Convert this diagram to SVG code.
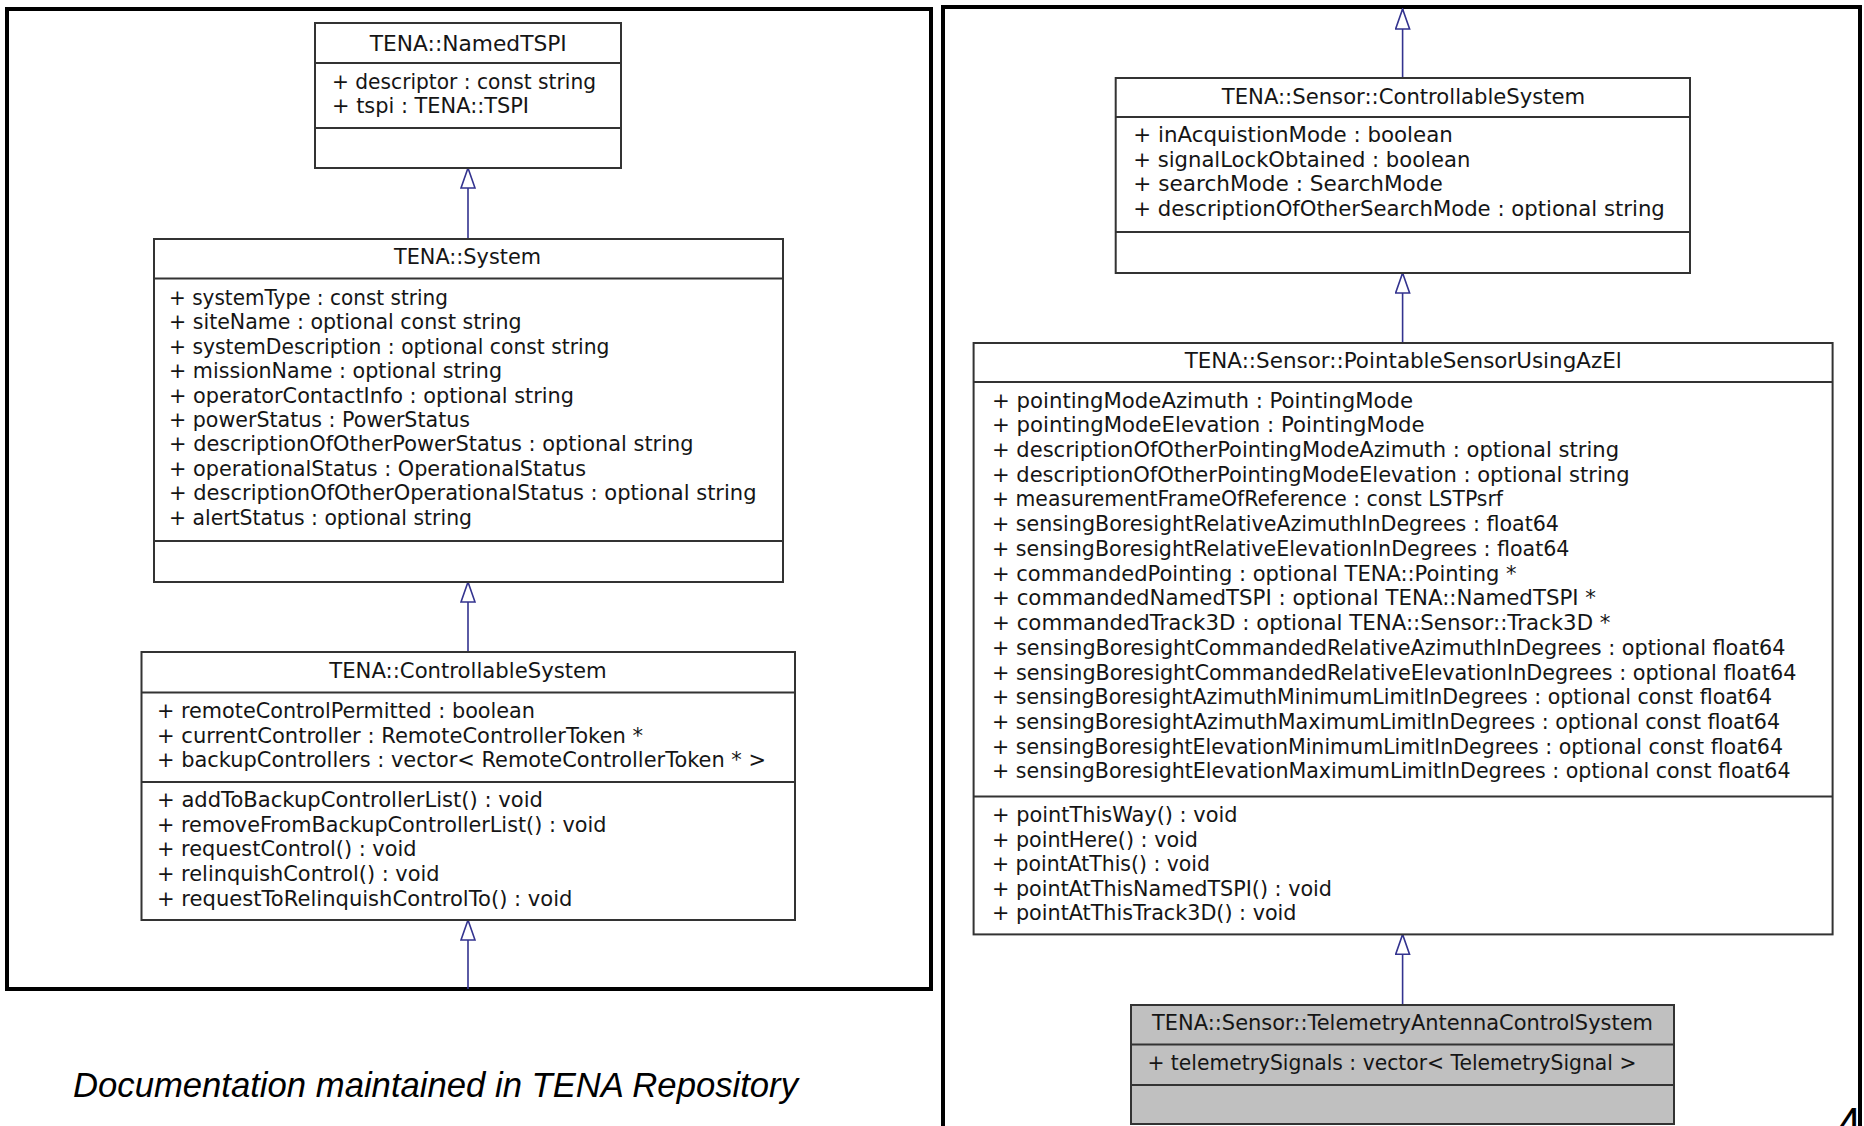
<svg xmlns="http://www.w3.org/2000/svg" width="1864" height="1126" viewBox="0 0 1864 1126">
<style>
.frame{fill:none;stroke:#000;stroke-width:4}
.box{fill:#fff;stroke:#333;stroke-width:2}
.gray{fill:#c0c0c0}
.div{stroke:#333;stroke-width:2}
.t{font-family:"DejaVu Sans","Liberation Sans",sans-serif;font-size:21px;fill:#151515}
.c{text-anchor:middle}
.conn{stroke:#33338f;stroke-width:1.6;fill:none;marker-end:url(#gen)}
.doc{font-family:"Liberation Sans",Arial,sans-serif;font-style:italic;font-size:34.5px;fill:#000}
.pg{font-family:"Liberation Sans",Arial,sans-serif;font-size:44px;fill:#000}
</style>
<defs>
<marker id="gen" viewBox="0 0 22 16" refX="21" refY="8" markerWidth="22" markerHeight="16" markerUnits="userSpaceOnUse" orient="auto">
<path d="M1,1 L21,8 L1,15 Z" fill="#fff" stroke="#33338f" stroke-width="1.6"/>
</marker>
</defs>
<rect width="1864" height="1126" fill="#fff"/>
<rect class="frame" x="7" y="9" width="924" height="980"/>
<rect class="frame" x="943" y="7" width="917" height="1200"/>

<g id="connectors">
<line class="conn" x1="468" y1="239" x2="468" y2="168"/>
<line class="conn" x1="468" y1="652" x2="468" y2="582"/>
<line class="conn" x1="468" y1="989" x2="468" y2="920"/>
<line class="conn" x1="1402.6" y1="78" x2="1402.6" y2="9"/>
<line class="conn" x1="1402.6" y1="343" x2="1402.6" y2="273"/>
<line class="conn" x1="1402.6" y1="1005" x2="1402.6" y2="934.4"/>
</g>

<g id="namedtspi">
<rect class="box" x="315" y="23" width="306" height="145"/>
<line class="div" x1="315" y1="63" x2="621" y2="63"/>
<line class="div" x1="315" y1="128" x2="621" y2="128"/>
<text class="t c" x="468.3" y="50.7" textLength="197" lengthAdjust="spacingAndGlyphs">TENA::NamedTSPI</text>
<text class="t" x="332" y="88.5" textLength="264" lengthAdjust="spacingAndGlyphs">+ descriptor : const string</text>
<text class="t" x="332" y="112.5" textLength="197" lengthAdjust="spacingAndGlyphs">+ tspi : TENA::TSPI</text>
</g>

<g id="system">
<rect class="box" x="154" y="239" width="629" height="343"/>
<line class="div" x1="154" y1="278.5" x2="783" y2="278.5"/>
<line class="div" x1="154" y1="541" x2="783" y2="541"/>
<text class="t c" x="467.5" y="264" textLength="147" lengthAdjust="spacingAndGlyphs">TENA::System</text>
<text class="t" x="169" y="305" textLength="279" lengthAdjust="spacingAndGlyphs">+ systemType : const string</text>
<text class="t" x="169" y="329.4" textLength="352.5" lengthAdjust="spacingAndGlyphs">+ siteName : optional const string</text>
<text class="t" x="169" y="353.8" textLength="440.5" lengthAdjust="spacingAndGlyphs">+ systemDescription : optional const string</text>
<text class="t" x="169" y="378.2" textLength="333" lengthAdjust="spacingAndGlyphs">+ missionName : optional string</text>
<text class="t" x="169" y="402.6" textLength="405" lengthAdjust="spacingAndGlyphs">+ operatorContactInfo : optional string</text>
<text class="t" x="169" y="427" textLength="301" lengthAdjust="spacingAndGlyphs">+ powerStatus : PowerStatus</text>
<text class="t" x="169" y="451.4" textLength="524.5" lengthAdjust="spacingAndGlyphs">+ descriptionOfOtherPowerStatus : optional string</text>
<text class="t" x="169" y="475.8" textLength="417" lengthAdjust="spacingAndGlyphs">+ operationalStatus : OperationalStatus</text>
<text class="t" x="169" y="500.2" textLength="587.5" lengthAdjust="spacingAndGlyphs">+ descriptionOfOtherOperationalStatus : optional string</text>
<text class="t" x="169" y="524.6" textLength="303" lengthAdjust="spacingAndGlyphs">+ alertStatus : optional string</text>
</g>

<g id="controllablesystem">
<rect class="box" x="141.5" y="652" width="653.5" height="268"/>
<line class="div" x1="141.5" y1="692.5" x2="795" y2="692.5"/>
<line class="div" x1="141.5" y1="782" x2="795" y2="782"/>
<text class="t c" x="468" y="677.5" textLength="277.5" lengthAdjust="spacingAndGlyphs">TENA::ControllableSystem</text>
<text class="t" x="157" y="718" textLength="378" lengthAdjust="spacingAndGlyphs">+ remoteControlPermitted : boolean</text>
<text class="t" x="157" y="742.5" textLength="486" lengthAdjust="spacingAndGlyphs">+ currentController : RemoteControllerToken *</text>
<text class="t" x="157" y="767" textLength="609" lengthAdjust="spacingAndGlyphs">+ backupControllers : vector&lt; RemoteControllerToken * &gt;</text>
<text class="t" x="157" y="807.3" textLength="386" lengthAdjust="spacingAndGlyphs">+ addToBackupControllerList() : void</text>
<text class="t" x="157" y="831.8" textLength="449.5" lengthAdjust="spacingAndGlyphs">+ removeFromBackupControllerList() : void</text>
<text class="t" x="157" y="856.4" textLength="259.5" lengthAdjust="spacingAndGlyphs">+ requestControl() : void</text>
<text class="t" x="157" y="881" textLength="282.5" lengthAdjust="spacingAndGlyphs">+ relinquishControl() : void</text>
<text class="t" x="157" y="905.6" textLength="415.5" lengthAdjust="spacingAndGlyphs">+ requestToRelinquishControlTo() : void</text>
</g>

<g id="sensor-controllablesystem">
<rect class="box" x="1115.7" y="78" width="574.3" height="195"/>
<line class="div" x1="1115.7" y1="117" x2="1690" y2="117"/>
<line class="div" x1="1115.7" y1="232" x2="1690" y2="232"/>
<text class="t c" x="1403.5" y="103.6" textLength="363.5" lengthAdjust="spacingAndGlyphs">TENA::Sensor::ControllableSystem</text>
<text class="t" x="1133.3" y="142" textLength="319.5" lengthAdjust="spacingAndGlyphs">+ inAcquistionMode : boolean</text>
<text class="t" x="1133.3" y="166.5" textLength="337" lengthAdjust="spacingAndGlyphs">+ signalLockObtained : boolean</text>
<text class="t" x="1133.3" y="191" textLength="309.5" lengthAdjust="spacingAndGlyphs">+ searchMode : SearchMode</text>
<text class="t" x="1133.3" y="215.5" textLength="531.5" lengthAdjust="spacingAndGlyphs">+ descriptionOfOtherSearchMode : optional string</text>
</g>

<g id="pointablesensor">
<rect class="box" x="973.6" y="343" width="859" height="591.4"/>
<line class="div" x1="973.6" y1="382" x2="1832.6" y2="382"/>
<line class="div" x1="973.6" y1="796.5" x2="1832.6" y2="796.5"/>
<text class="t c" x="1403.2" y="368" textLength="437" lengthAdjust="spacingAndGlyphs">TENA::Sensor::PointableSensorUsingAzEl</text>
<text class="t" x="992" y="407.5" textLength="421" lengthAdjust="spacingAndGlyphs">+ pointingModeAzimuth : PointingMode</text>
<text class="t" x="992" y="432.2" textLength="432.5" lengthAdjust="spacingAndGlyphs">+ pointingModeElevation : PointingMode</text>
<text class="t" x="992" y="457" textLength="627" lengthAdjust="spacingAndGlyphs">+ descriptionOfOtherPointingModeAzimuth : optional string</text>
<text class="t" x="992" y="481.7" textLength="637.5" lengthAdjust="spacingAndGlyphs">+ descriptionOfOtherPointingModeElevation : optional string</text>
<text class="t" x="992" y="506.4" textLength="511" lengthAdjust="spacingAndGlyphs">+ measurementFrameOfReference : const LSTPsrf</text>
<text class="t" x="992" y="531.2" textLength="567" lengthAdjust="spacingAndGlyphs">+ sensingBoresightRelativeAzimuthInDegrees : float64</text>
<text class="t" x="992" y="555.9" textLength="577.5" lengthAdjust="spacingAndGlyphs">+ sensingBoresightRelativeElevationInDegrees : float64</text>
<text class="t" x="992" y="580.6" textLength="524.5" lengthAdjust="spacingAndGlyphs">+ commandedPointing : optional TENA::Pointing *</text>
<text class="t" x="992" y="605.3" textLength="604" lengthAdjust="spacingAndGlyphs">+ commandedNamedTSPI : optional TENA::NamedTSPI *</text>
<text class="t" x="992" y="630.1" textLength="618.5" lengthAdjust="spacingAndGlyphs">+ commandedTrack3D : optional TENA::Sensor::Track3D *</text>
<text class="t" x="992" y="654.8" textLength="793.5" lengthAdjust="spacingAndGlyphs">+ sensingBoresightCommandedRelativeAzimuthInDegrees : optional float64</text>
<text class="t" x="992" y="679.5" textLength="804.5" lengthAdjust="spacingAndGlyphs">+ sensingBoresightCommandedRelativeElevationInDegrees : optional float64</text>
<text class="t" x="992" y="704.3" textLength="780" lengthAdjust="spacingAndGlyphs">+ sensingBoresightAzimuthMinimumLimitInDegrees : optional const float64</text>
<text class="t" x="992" y="729" textLength="788" lengthAdjust="spacingAndGlyphs">+ sensingBoresightAzimuthMaximumLimitInDegrees : optional const float64</text>
<text class="t" x="992" y="753.7" textLength="791" lengthAdjust="spacingAndGlyphs">+ sensingBoresightElevationMinimumLimitInDegrees : optional const float64</text>
<text class="t" x="992" y="778.4" textLength="798.5" lengthAdjust="spacingAndGlyphs">+ sensingBoresightElevationMaximumLimitInDegrees : optional const float64</text>
<text class="t" x="992" y="822" textLength="245.5" lengthAdjust="spacingAndGlyphs">+ pointThisWay() : void</text>
<text class="t" x="992" y="846.6" textLength="206" lengthAdjust="spacingAndGlyphs">+ pointHere() : void</text>
<text class="t" x="992" y="871.2" textLength="218" lengthAdjust="spacingAndGlyphs">+ pointAtThis() : void</text>
<text class="t" x="992" y="895.8" textLength="340" lengthAdjust="spacingAndGlyphs">+ pointAtThisNamedTSPI() : void</text>
<text class="t" x="992" y="920.4" textLength="304.5" lengthAdjust="spacingAndGlyphs">+ pointAtThisTrack3D() : void</text>
</g>

<g id="telemetry">
<rect class="box gray" x="1131" y="1005" width="543" height="119"/>
<line class="div" x1="1131" y1="1044.5" x2="1674" y2="1044.5"/>
<line class="div" x1="1131" y1="1085" x2="1674" y2="1085"/>
<text class="t c" x="1402.5" y="1030" textLength="501" lengthAdjust="spacingAndGlyphs">TENA::Sensor::TelemetryAntennaControlSystem</text>
<text class="t" x="1147.4" y="1069.5" textLength="489" lengthAdjust="spacingAndGlyphs">+ telemetrySignals : vector&lt; TelemetrySignal &gt;</text>
</g>

<text class="doc" x="73" y="1097" textLength="725" lengthAdjust="spacingAndGlyphs">Documentation maintained in TENA Repository</text>
<text class="pg" x="1837" y="1138.5">4</text>
</svg>
